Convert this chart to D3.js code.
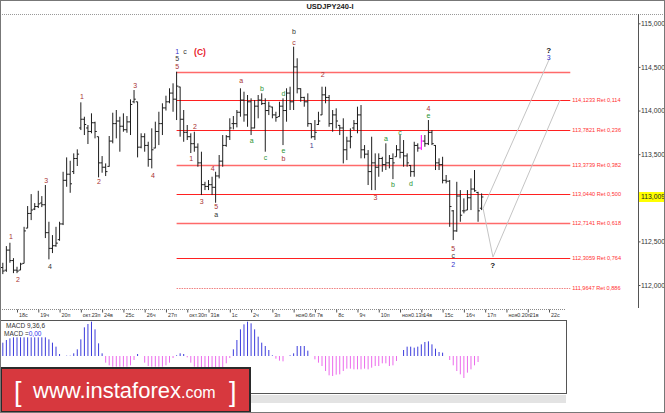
<!DOCTYPE html>
<html><head><meta charset="utf-8">
<script src="https://cdn.jsdelivr.net/npm/d3@7"></script>
<style>html,body{margin:0;padding:0;background:#fff;} svg{display:block;font-family:"Liberation Sans",Arial,sans-serif;}</style>
</head><body><svg id="c" width="665" height="413"></svg>
<script>
const title = "USDJPY240-I";
// 4H bars, first bar sits 4 slots before Oct 18 00:00
const barOpen = [112.20,112.17,112.40,112.28,112.17,112.16,112.24,112.62,112.82,112.87,112.90,112.94,112.92,112.60,112.42,112.45,112.52,112.70,113.20,113.27,113.30,113.45,113.80,113.90,113.80,113.76,113.86,113.70,113.40,113.35,113.36,113.65,113.85,113.88,113.82,113.78,113.87,114.10,114.10,113.58,113.70,113.60,113.44,113.57,113.76,113.85,114.03,114.10,114.20,114.13,114.27,113.90,113.75,113.70,113.62,113.58,113.40,113.15,113.13,113.15,113.12,113.25,113.42,113.60,113.70,113.85,113.85,113.98,114.12,113.95,114.10,113.80,114.05,114.12,114.08,114.00,114.04,113.95,113.93,114.05,114.00,114.20,114.10,114.50,114.25,114.15,114.10,113.85,113.70,113.84,113.95,114.18,114.15,113.85,113.95,113.83,113.80,113.55,113.65,113.80,113.85,113.95,113.55,113.50,113.30,113.40,113.35,113.45,113.38,113.40,113.45,113.47,113.55,113.52,113.48,113.37,113.30,113.60,113.57,113.65,113.62,113.75,113.60,113.40,113.38,113.20,113.19,112.85,112.62,113.02,112.85,112.85,113.00,113.10,113.06,112.88];
const barHigh = [112.255,112.446,112.484,112.308,112.209,112.255,112.667,112.905,113.042,112.939,113.080,113.019,113.146,112.725,112.572,112.667,112.725,113.298,113.463,113.424,113.509,113.555,114.094,113.929,113.834,113.968,113.872,113.700,113.478,113.394,113.708,113.975,114.006,113.929,113.968,113.937,114.128,114.235,114.101,113.739,113.739,113.642,113.796,113.872,113.986,114.083,114.170,114.255,114.312,114.445,114.273,114.006,113.834,113.739,113.757,113.624,113.528,113.183,113.203,113.241,113.298,113.490,113.719,113.719,113.911,113.937,114.006,114.255,114.216,114.178,114.140,114.120,114.178,114.197,114.140,114.101,114.044,113.986,114.101,114.140,114.255,114.273,114.732,114.599,114.255,114.158,114.197,113.853,113.891,113.986,114.273,114.273,114.178,114.006,114.025,113.834,113.911,113.700,113.796,113.891,114.044,114.063,113.604,113.547,113.700,113.509,113.509,113.470,113.624,113.490,113.509,113.604,113.719,113.662,113.509,113.375,113.642,113.624,113.719,113.719,113.891,113.776,113.604,113.452,113.470,113.261,113.203,112.859,113.183,113.088,112.993,113.088,113.222,113.318,113.069,113.050];
const barLow = [112.125,112.151,112.255,112.136,112.136,112.171,112.248,112.652,112.744,112.859,112.882,112.893,112.538,112.294,112.366,112.438,112.507,112.687,113.126,113.057,113.272,113.364,113.776,113.719,113.616,113.739,113.681,113.234,113.287,113.249,113.356,113.624,113.681,113.528,113.757,113.745,113.719,114.083,113.463,113.567,113.528,113.356,113.337,113.567,113.604,113.719,114.000,114.083,113.986,113.891,113.700,113.642,113.662,113.513,113.528,113.356,113.031,113.088,113.088,113.031,112.943,113.222,113.356,113.585,113.662,113.784,113.807,113.929,113.872,113.814,113.719,113.796,113.911,114.063,113.528,113.948,113.911,113.872,113.929,113.604,113.872,114.006,114.006,114.197,114.101,114.044,113.814,113.681,113.662,113.834,113.948,114.083,113.814,113.757,113.796,113.719,113.394,113.432,113.567,113.776,113.739,113.452,113.452,113.146,113.088,113.088,113.241,113.298,113.318,113.337,113.214,113.470,113.452,113.356,113.356,113.241,113.241,113.528,113.547,113.585,113.604,113.604,113.318,113.318,113.165,113.165,112.667,112.515,112.610,112.725,112.821,112.859,112.859,113.069,112.725,112.859];
const barClose = [112.16,112.40,112.28,112.17,112.16,112.24,112.62,112.82,112.86,112.90,112.93,112.92,112.60,112.42,112.45,112.48,112.70,113.20,113.27,113.16,113.45,113.50,113.90,113.84,113.76,113.86,113.76,113.40,113.35,113.30,113.65,113.85,113.88,113.82,113.78,113.87,114.07,114.13,113.58,113.70,113.60,113.44,113.55,113.76,113.85,114.03,114.10,114.20,114.13,114.28,113.90,113.75,113.70,113.62,113.58,113.40,113.15,113.13,113.15,113.12,113.25,113.42,113.60,113.70,113.80,113.85,113.98,114.12,113.95,114.10,113.80,114.05,114.12,114.08,114.00,114.05,113.95,113.92,114.05,114.00,114.20,114.10,114.50,114.25,114.15,114.10,113.85,113.70,113.75,113.88,114.18,114.15,113.85,113.95,113.88,113.80,113.55,113.65,113.70,113.85,113.95,113.55,113.50,113.30,113.40,113.35,113.45,113.38,113.40,113.45,113.40,113.55,113.52,113.48,113.40,113.30,113.60,113.57,113.65,113.62,113.75,113.62,113.40,113.38,113.20,113.19,112.90,112.62,113.02,112.80,112.85,113.00,113.10,113.08,112.85,113.009];
const highlightBars = [118];
const macdHist = [40,48,53,56,56,56,56,56,56,56,56,56,56,50,40,28,6,0,1,1,8,20,50,86,96,103,80,38,8,-20,-28,-32,-32,-32,-32,-32,-28,-12,6,0,-20,-30,-32,-32,-32,-32,-28,-20,-6,2,8,6,-4,-20,-32,-38,-44,-48,-50,-50,-48,-44,-38,-22,-6,20,48,80,95,103,98,80,58,40,30,18,2,-8,-14,-16,0,2,8,30,30,30,16,0,-10,-20,-30,-45,-58,-60,-56,-55,-45,-38,-38,-40,-40,-40,-38,-40,-35,-30,-30,-22,-22,-30,-28,-15,0,18,28,28,25,28,35,42,44,35,22,12,10,0,-12,-28,-45,-55,-66,-50,-40,-28,-18,0];
const dayLabels = ["18с","19ч","20п","окт.23п","24в","25с","26ч","27п","окт.30п","31в","1с","2ч","3п","ноя0.6п","7в","8с","9ч","10п","ноя0.13п","14в","15с","16ч","17п","ноя0.20п","21в","22с"];
const priceTicks = [112, 112.5, 113.5, 114, 114.5, 115];
const priceTickLabels = ["112,000","112,500","113,500","114,000","114,500","115,000"];
const lastPrice = 113.009;
const lastPriceLabel = "113,009";
const fibLevels = [114.442, 114.1233, 113.7821, 113.3739, 113.0440, 112.7141, 112.3059, 111.9647];
const fibLabels = ["", "114,1233 Ret 0,114", "113,7821 Ret 0,236", "113,3739 Ret 0,382", "113,0440 Ret 0,500", "112,7141 Ret 0,618", "112,3059 Ret 0,764", "111,9647 Ret 0,886"];
// [slot, price, text, colour key]
const waveLabels = [
 [-1.7,112.552,"1","r"],[0.3,112.064,"2","r"],[8.2,113.203,"3","r"],[9.3,112.209,"4","k"],
 [18.3,114.166,"1","r"],[23.1,113.184,"2","r"],[33.3,114.292,"3","r"],[38.3,113.257,"4","r"],
 [45.2,114.674,"1","b"],[47.4,114.674,"c","k"],[45.2,114.591,"5","k"],[45.2,114.502,"5","r"],
 [50.2,113.822,"2","r"],[49.1,113.452,"1","r"],[52.1,112.954,"3","r"],[55.2,113.337,"4","r"],
 [56.2,112.905,"5","r"],[56.2,112.813,"a","k"],[63.2,114.342,"a","r"],[66.2,113.654,"a","g"],
 [69.1,114.255,"b","g"],[70.1,113.463,"c","g"],[75.1,114.189,"d","g"],[75.1,113.547,"e","g"],
 [75.1,113.452,"b","r"],[78.1,114.778,"c","r"],[78.1,114.900,"b","k"],[83.1,113.593,"1","n"],
 [86.2,114.407,"2","r"],[101.1,113.0,"3","r"],[104.0,113.681,"a","g"],[106.0,113.154,"b","g"],
 [108.0,113.75,"c","g"],[111.1,113.165,"d","g"],[116.0,114.025,"4","r"],[116.0,113.940,"e","g"],
 [123.0,112.42,"5","r"],[123.0,112.335,"c","k"],[123.0,112.236,"2","b"],
 [134.1,112.228,"?","q"],[149.9,114.694,"?","q"],[149.9,114.602,"3","b"]
];
const projA = [[131.4,112.88],[150.2,114.60]];
const projB = [[131.4,112.88],[134.2,112.32],[153.1,114.12]];

const colors = {r:"#a83232", g:"#2a9436", b:"#3434cc", k:"#333", q:"#111", n:"#3a3a8c"};
const FIRST_SLOT = -4;

const svg = d3.select("#c");
const x = d3.scaleLinear().domain([0,150]).range([17,549]);
const y = d3.scaleLinear().domain([112,115]).range([285,23.3]);
const yM = d3.scaleLinear().domain([-111,105]).range([393,321]);

svg.append("rect").attr("width",665).attr("height",413).attr("fill","#fff");

// title
svg.append("text").attr("x",330).attr("y",9).attr("text-anchor","middle")
  .attr("font-size",7.5).attr("font-weight","bold").attr("fill","#222").text(title);
svg.append("line").attr("x1",0).attr("x2",665).attr("y1",14.5).attr("y2",14.5)
  .attr("stroke","#999").attr("stroke-dasharray","1,1");

// fib lines
const fibStart = 45, fibEnd = 156;
fibLevels.forEach((lv,i)=>{
  const ln = svg.append("line").attr("x1",x(fibStart)).attr("x2",x(fibEnd))
    .attr("y1",Math.round(y(lv))+0.5).attr("y2",Math.round(y(lv))+0.5)
    .attr("stroke", i===7?"#f08080":(i===0||i===3||i===5?"#ff6a6a":"#ff2020")).attr("stroke-width",i===0||i===3||i===5?1.6:1);
  if(i===7) ln.attr("stroke-dasharray","1.5,1");
  if(fibLabels[i]) svg.append("text").attr("x",x(fibEnd)+2).attr("y",y(lv)).attr("dy","0.35em")
    .attr("font-size",5.6).attr("fill","#ff3030").text(fibLabels[i]);
});

// projection lines
const line = d3.line().x(d=>x(d[0])).y(d=>y(d[1]));
[projA, projB].forEach(p=>svg.append("path").attr("d",line(p)).attr("fill","none")
  .attr("stroke","#c4c4c4").attr("stroke-width",1));

// price bars
const bars = svg.append("g");
barHigh.forEach((h,i)=>{
  const cx = x(i+FIRST_SLOT);
  const col = highlightBars.includes(i) ? "#ff00ff" : "#1e1e1e";
  const lo = barLow[i];
  const o = Math.min(h, Math.max(lo, barOpen[i]));
  const c = Math.min(h, Math.max(lo, barClose[i]));
  bars.append("line").attr("x1",cx).attr("x2",cx).attr("y1",y(h)).attr("y2",y(lo)).attr("stroke",col).attr("stroke-width",1);
  bars.append("line").attr("x1",cx-1.8).attr("x2",cx).attr("y1",y(o)).attr("y2",y(o)).attr("stroke",col).attr("stroke-width",1);
  bars.append("line").attr("x1",cx).attr("x2",cx+1.8).attr("y1",y(c)).attr("y2",y(c)).attr("stroke",col).attr("stroke-width",1);
});

// wave labels
waveLabels.forEach(d=>{
  svg.append("text").attr("x",x(d[0])).attr("y",y(d[1])).attr("dy","0.35em")
   .attr("text-anchor","middle").attr("font-size",d[3]==="q"?8:7)
   .attr("font-weight",d[3]==="q"?"bold":"normal").attr("fill",colors[d[3]]).text(d[2]);
});
svg.append("text").attr("x",x(51.6)).attr("y",y(114.674)).attr("dy","0.35em").attr("text-anchor","middle")
  .attr("font-size",8.5).attr("font-weight","bold").attr("fill","#e8202a").text("(C)");

// y axis
svg.append("line").attr("x1",638.5).attr("x2",638.5).attr("y1",14).attr("y2",308).attr("stroke","#555");
const ya = svg.append("g").attr("transform","translate(638.5,0)")
  .call(d3.axisRight(y).tickValues(priceTicks).tickSize(2).tickFormat((d,i)=>priceTickLabels[i]));
ya.select(".domain").remove();
ya.selectAll("line").attr("stroke","#555");
ya.selectAll("text").attr("font-size",6.8).attr("fill","#333").attr("x",2.5).attr("font-family","Liberation Sans, Arial");
svg.append("rect").attr("x",639).attr("y",y(lastPrice)-5).attr("width",26).attr("height",10).attr("fill","#ffff00");
svg.append("text").attr("x",641).attr("y",y(lastPrice)).attr("dy","0.35em").attr("font-size",6.8).attr("fill","#222").text(lastPriceLabel);

// x axis
svg.append("line").attr("x1",0).attr("x2",566).attr("y1",309.5).attr("y2",309.5).attr("stroke","#888").attr("stroke-dasharray","1,1");
const xa = svg.append("g").attr("transform","translate(0,309.5)")
  .call(d3.axisBottom(x).tickValues(d3.range(0,151,6)).tickSize(3).tickFormat((d,i)=>dayLabels[i]));
xa.select(".domain").remove();
xa.selectAll("line").attr("stroke","#555");
xa.selectAll("text").attr("font-size",5.4).attr("fill","#333").attr("text-anchor","start").attr("x",1.5).attr("y",4).attr("font-family","Liberation Sans, Arial");

// MACD panel
svg.append("rect").attr("x",0.5).attr("y",320.5).attr("width",566).attr("height",73).attr("fill","#fff").attr("stroke","#555");
svg.append("rect").attr("x",0).attr("y",395).attr("width",566).attr("height",8).attr("fill","#e3e3e3");
macdHist.forEach((v,i)=>{
  if(v===0) return;
  const cx = x(i+FIRST_SLOT);
  svg.append("line").attr("x1",cx).attr("x2",cx).attr("y1",yM(0)).attr("y2",yM(v))
    .attr("stroke", v>0?"#3c3cdc":"#ec6aec").attr("stroke-width",1);
});
svg.append("text").attr("x",6).attr("y",327.5).attr("font-size",6.5).attr("fill","#333").text("MACD 9,36,6");
const mt = svg.append("text").attr("x",4).attr("y",336).attr("font-size",6.5).attr("fill","#333");
mt.append("tspan").text("MACD =");
mt.append("tspan").attr("fill","#3434ee").text("0,00");

// banner
svg.append("rect").attr("x",1).attr("y",368).attr("width",249).attr("height",44).attr("fill","#d7383e").attr("stroke","#2a2a2a").attr("stroke-width",2);
svg.append("text").attr("x",14).attr("y",401).attr("font-size",27).attr("font-weight","300").attr("fill","#fff").text("[");
const bt = svg.append("text").attr("x",33).attr("y",398).attr("fill","#fff");
bt.append("tspan").attr("font-size",22).text("www.instaforex");
bt.append("tspan").attr("font-size",16).text(".com");
svg.append("text").attr("x",229).attr("y",401).attr("font-size",27).attr("font-weight","300").attr("fill","#fff").text("]");

// outer frame
svg.append("rect").attr("x",0.5).attr("y",0.5).attr("width",664).attr("height",412).attr("fill","none").attr("stroke","#777");
</script></body></html>
